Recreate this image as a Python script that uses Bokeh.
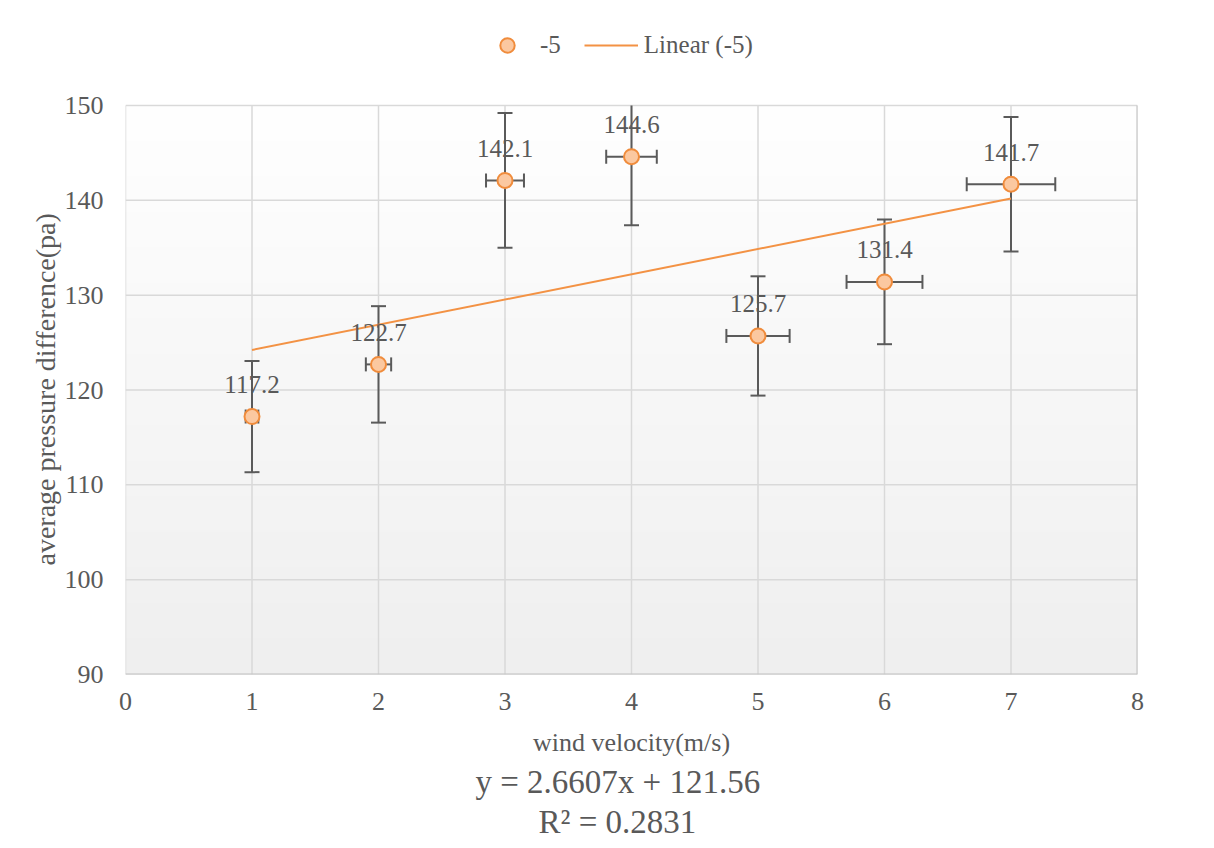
import numpy as np
from bokeh.plotting import figure
from bokeh.models import Legend, LegendItem, Title, FixedTicker, ColumnDataSource
from bokeh.core.properties import value
from bokeh.embed import file_html
from bokeh.resources import INLINE

# ---- data ----
wind_velocity = [1, 2, 3, 4, 5, 6, 7]
pressure_diff = [117.2, 122.7, 142.1, 144.6, 125.7, 131.4, 141.7]
y_error = [5.86, 6.14, 7.11, 7.23, 6.29, 6.57, 7.09]
x_error = [0.05, 0.10, 0.15, 0.20, 0.25, 0.30, 0.35]
trend_slope = 2.6607
trend_intercept = 121.56
trend_r2 = 0.2831
series_name = "-5"
trend_name = "Linear (-5)"
x_title = "wind velocity(m/s)"
y_title = "average pressure difference(pa)"
x_ticks = [0, 1, 2, 3, 4, 5, 6, 7, 8]
y_ticks = [90, 100, 110, 120, 130, 140, 150]

FONT = "Liberation Serif"
TEXT = "#595959"
ORANGE = "#f08c3c"
EB = "#5a5a5a"
GRID = "#d9d9d9"

# plot-area geometry (pixels)
FRAME_W, AREA_H, EXTRA_TOP = 1012, 569, 85
x_lo, x_hi = x_ticks[0], x_ticks[-1]
y_lo, y_hi = y_ticks[0], y_ticks[-1]
# the frame reaches above the plot area so the legend (inside the frame) is not clipped
y_top = y_hi + EXTRA_TOP * (y_hi - y_lo) / AREA_H

x = np.array(wind_velocity, dtype=float)
y = np.array(pressure_diff, dtype=float)
ex = np.array(x_error)
ey = np.array(y_error)
lo = y - ey
hi = y + ey

src = ColumnDataSource(dict(
    x=x, y=y, lo=lo, hi_vis=np.minimum(hi, y_hi), left=x - ex, right=x + ex,
    label=[f"{v:.1f}" for v in pressure_diff],
))
cap_hi = ColumnDataSource(dict(x=x[hi <= y_hi], y=hi[hi <= y_hi]))

p = figure(frame_width=FRAME_W, frame_height=AREA_H + EXTRA_TOP,
           x_range=(x_lo, x_hi), y_range=(y_lo, y_top),
           output_backend="svg", toolbar_location=None,
           min_border_left=125, min_border_right=77,
           min_border_top=20, min_border_bottom=174)
p.background_fill_color = "white"
p.border_fill_color = "white"
p.outline_line_color = None
p.xgrid.visible = False
p.ygrid.visible = False

# gradient plot-area background
n = 256
img = np.empty((n, 1), dtype=np.uint32)
view = img.view(dtype=np.uint8).reshape((n, 1, 4))
shade = np.linspace(239, 255, n).astype(np.uint8)
view[:, 0, 0] = shade
view[:, 0, 1] = shade
view[:, 0, 2] = shade
view[:, 0, 3] = 255
p.image_rgba(image=[img], x=x_lo, y=y_lo, dw=x_hi - x_lo, dh=y_hi - y_lo, level="image")

# grid lines limited to the plot area
p.segment(x0=x_ticks, y0=[y_lo] * len(x_ticks), x1=x_ticks, y1=[y_hi] * len(x_ticks),
          line_color=GRID, line_width=1.5)
p.segment(x0=[x_lo] * len(y_ticks), y0=y_ticks, x1=[x_hi] * len(y_ticks), y1=y_ticks,
          line_color=GRID, line_width=1.5)
p.segment(x0=[x_lo, x_hi], y0=[y_lo, y_lo], x1=[x_hi, x_hi], y1=[y_lo, y_hi],
          line_color="#c4c4c4", line_width=2)

# axes
p.xaxis.ticker = FixedTicker(ticks=x_ticks)
p.yaxis.ticker = FixedTicker(ticks=y_ticks)
for ax in (p.xaxis, p.yaxis):
    ax.axis_line_color = None
    ax.major_tick_line_color = None
    ax.minor_tick_line_color = None
    ax.major_tick_out = 0
    ax.major_tick_in = 0
    ax.major_label_text_font = FONT
    ax.major_label_text_font_size = "26px"
    ax.major_label_text_color = TEXT
p.xaxis.major_label_standoff = 18
p.yaxis.major_label_standoff = 22
p.xaxis.axis_label = x_title
p.xaxis.axis_label_text_font = FONT
p.xaxis.axis_label_text_color = TEXT
p.xaxis.axis_label_text_font_style = "normal"
p.xaxis.axis_label_text_font_size = "26px"
p.xaxis.axis_label_standoff = 15

# y-axis title, centred on the plot area (not on the taller frame)
p.add_layout(Title(text=y_title, align="left", offset=109, standoff=2,
                   text_font=FONT, text_font_size="28px", text_color=TEXT,
                   text_font_style="normal"), "left")

# error bars
p.segment(x0="x", y0="lo", x1="x", y1="hi_vis", source=src, line_color=EB, line_width=2)
p.segment(x0="left", y0="y", x1="right", y1="y", source=src, line_color=EB, line_width=2)
p.scatter(x="x", y="lo", source=src, marker="dash", size=15, line_color=EB, line_width=2)
p.scatter(x="x", y="y", source=cap_hi, marker="dash", size=15, line_color=EB, line_width=2)
p.scatter(x="left", y="y", source=src, marker="dash", size=14, angle=np.pi / 2, line_color=EB, line_width=2)
p.scatter(x="right", y="y", source=src, marker="dash", size=14, angle=np.pi / 2, line_color=EB, line_width=2)

# trend line
tx = np.array([min(wind_velocity), max(wind_velocity)], dtype=float)
ty = trend_slope * tx + trend_intercept
trend = p.line(tx, ty, line_color="#f39244", line_width=2)

# points
pts = p.scatter(x="x", y="y", source=src, marker="circle", size=15,
                fill_color="#fbc8a0", line_color=ORANGE, line_width=2)

# data labels
p.text(x="x", y="y", text="label", source=src, text_align="center",
       text_baseline="alphabetic", y_offset=-32,
       text_font=value(FONT), text_font_size="25px", text_color=TEXT)

# legend at the top (inside the taller frame)
legend = Legend(items=[LegendItem(label=series_name, renderers=[pts]),
                       LegendItem(label=trend_name, renderers=[trend])],
                orientation="horizontal", location=(355, 611),
                padding=0, margin=0, spacing=23, glyph_width=54, glyph_height=36,
                label_standoff=6, label_text_font=FONT, label_text_font_size="25px",
                label_text_color=TEXT, background_fill_alpha=0, border_line_alpha=0)
p.add_layout(legend, "center")

# trendline equation, below the x-axis title
p.add_layout(Title(text=f"y = {trend_slope}x + {trend_intercept}", align="left",
                   offset=350, standoff=4, text_font=FONT, text_font_size="33px",
                   text_color=TEXT, text_font_style="normal"), "below")
p.add_layout(Title(text=f"R\u00b2 = {trend_r2}", align="left",
                   offset=413, standoff=0, text_font=FONT, text_font_size="33px",
                   text_color=TEXT, text_font_style="normal"), "below")

open("out.html", "w").write(file_html(p, INLINE))
